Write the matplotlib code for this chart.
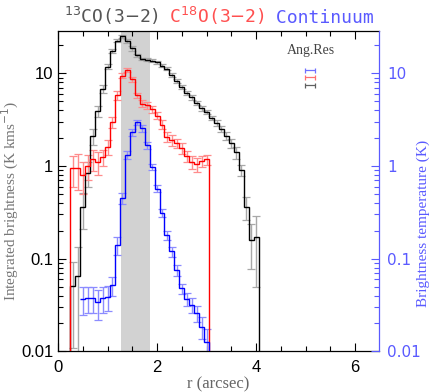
import numpy as np
import matplotlib
matplotlib.use("Agg")
import matplotlib.pyplot as plt
from matplotlib.ticker import LogLocator, NullFormatter, FixedLocator, MultipleLocator

# ---------------- data ----------------
bin_width = 0.1
co13_r = [round(0.3 + 0.1 * i, 2) for i in range(38)]
co13_val = [0.051, 0.065, 0.36, 0.85, 2.1, 3.9, 6.8, 11.8, 17.5, 22.5,
            25.0, 22.3, 18.6, 15.6, 14.3, 14.0, 13.6, 13.1, 12.1, 11.2,
            9.6, 8.3, 7.1, 6.1, 5.5, 4.8, 4.2, 3.8, 3.3, 2.9,
            2.5, 2.1, 1.78, 1.4, 0.9, 0.36, 0.158, 0.17]
co13_err = [0.04, 0.07, 0.15, 0.25, 0.4, 0.5, 0.6, 0.8, 1.0, 1.0,
            1.0, 1.0, 1.0, 0.6, 0.5, 0.5, 0.5, 0.5, 0.5, 0.4,
            0.4, 0.35, 0.3, 0.3, 0.3, 0.25, 0.25, 0.2, 0.2, 0.2,
            0.2, 0.2, 0.2, 0.2, 0.12, 0.1, 0.08, 0.12]

c18o_r = [round(0.3 + 0.1 * i, 2) for i in range(28)]
c18o_val = [0.94, 0.95, 0.80, 1.0, 1.18, 1.1, 1.25, 1.6, 3.0, 5.8,
            9.4, 10.9, 8.6, 5.8, 4.7, 4.5, 4.1, 3.5, 2.8, 2.07,
            1.9, 1.75, 1.55, 1.28, 1.1, 1.04, 1.12, 1.18]
c18o_err = [0.35, 0.4, 0.3, 0.3, 0.3, 0.3, 0.25, 0.3, 0.4, 0.6,
            0.6, 0.6, 0.5, 0.4, 0.4, 0.4, 0.35, 0.3, 0.3, 0.25,
            0.25, 0.2, 0.2, 0.18, 0.18, 0.18, 0.15, 0.15]

cont_r = [round(0.5 + 0.1 * i, 2) for i in range(26)]
cont_val = [0.037, 0.038, 0.038, 0.034, 0.038, 0.039, 0.052, 0.14, 0.45, 1.32,
            2.3, 2.95, 2.55, 1.67, 0.98, 0.57, 0.31, 0.178, 0.12, 0.075,
            0.048, 0.037, 0.032, 0.026, 0.0185, 0.0125]
cont_err = [0.012, 0.012, 0.012, 0.012, 0.012, 0.012, 0.012, 0.03, 0.06, 0.12,
            0.2, 0.2, 0.2, 0.15, 0.08, 0.05, 0.03, 0.02, 0.015, 0.01,
            0.006, 0.006, 0.006, 0.005, 0.005, 0.005]

gap_range = [1.28, 1.86]
angres_x = 5.08
angres_halfwidth = 0.1
angres_y = [10.9, 9.06, 7.5]   # continuum, C18O, 13CO

# ---------------- style ----------------
BLACK = "#000000"
RED = "#ff0000"
BLUE = "#0000ff"
GRAY_T = "#555555"
RED_T = "#ff5050"
BLUE_T = "#5a5aff"

fig = plt.figure(figsize=(4.38, 3.92), dpi=100)
ax = fig.add_axes([0.1324, 0.1036, 0.7329, 0.8173])
ax.set_yscale("log")
ax.set_xlim(0, 6.48)
ax.set_ylim(0.01, 28.6)

ax.axvspan(gap_range[0], gap_range[1], color="#d2d2d2", zorder=0, lw=0)


def draw(r, v, e, col, ecol, start_drop, end_drop):
    r = np.asarray(r)
    v = np.asarray(v, dtype=float)
    e = np.asarray(e, dtype=float)
    lo = np.minimum(e, v * 0.999)
    ax.errorbar(r, v, yerr=[lo, e], fmt="none", ecolor=ecol, elinewidth=1.0,
                capsize=3, capthick=0.9, zorder=2)
    edges = np.concatenate([r - bin_width / 2, [r[-1] + bin_width / 2]])
    vals = v.copy()
    if start_drop:
        edges = np.concatenate([[edges[0] - bin_width], edges])
        vals = np.concatenate([[1e-5], vals])
    if end_drop:
        edges = np.concatenate([edges, [edges[-1] + bin_width]])
        vals = np.concatenate([vals, [1e-5]])
    ax.stairs(vals, edges, baseline=None, color=col, lw=1.0, zorder=3)


draw(co13_r, co13_val, co13_err, BLACK, "#a8a8a8", True, True)
draw(c18o_r, c18o_val, c18o_err, RED, "#ff8c8c", True, True)
draw(cont_r, cont_val, cont_err, BLUE, "#8c8cff", False, True)

# Angular resolution markers
for yv, c in zip(angres_y, ["#7070ff", "#ff7070", "#606060"]):
    ax.errorbar([angres_x], [yv], xerr=[angres_halfwidth], fmt="none",
                ecolor=c, elinewidth=0.9, capsize=1.8, capthick=0.9)
ax.text(angres_x + 0.02, 17.5, "Ang.Res", ha="center", va="center",
        fontsize=10, family="Liberation Serif", color="#444444")

# ticks & spines
ax.xaxis.set_major_locator(FixedLocator([0, 2, 4, 6]))
ax.xaxis.set_minor_locator(MultipleLocator(0.5))
ax.tick_params(axis="x", which="both", direction="in", top=True, bottom=True)
ax.tick_params(axis="x", which="major", length=6, width=0.8, labelsize=12, pad=6)
ax.tick_params(axis="x", which="minor", length=3.5, width=0.8)
ax.tick_params(axis="y", which="both", direction="in", left=True, right=False)
ax.tick_params(axis="y", which="major", length=6, width=0.8, labelsize=12)
ax.tick_params(axis="y", which="minor", length=3.5, width=0.8)
ax.yaxis.set_minor_locator(LogLocator(base=10, subs=np.arange(2, 10), numticks=20))
ax.yaxis.set_minor_formatter(NullFormatter())
ax.set_yticks([0.01, 0.1, 1, 10])
ax.set_yticklabels(["0.01", "0.1", "1", "10"], family="Liberation Sans")
ax.set_xticklabels(["0", "2", "4", "6"], family="Liberation Sans")
for s in ["left", "top", "bottom"]:
    ax.spines[s].set_linewidth(0.9)
ax.spines["right"].set_visible(False)

ax2 = ax.twinx()
ax2.set_yscale("log")
ax2.set_ylim(ax.get_ylim())
ax2.spines["right"].set_color(BLUE_T)
ax2.spines["right"].set_linewidth(0.9)
for s in ["left", "top", "bottom"]:
    ax2.spines[s].set_visible(False)
ax2.set_yticks([0.01, 0.1, 1, 10])
ax2.yaxis.set_minor_locator(LogLocator(base=10, subs=np.arange(2, 10), numticks=20))
ax2.yaxis.set_minor_formatter(NullFormatter())
ax2.set_yticklabels(["0.01", "0.1", "1", "10"], family="DejaVu Sans")
ax2.tick_params(axis="y", which="both", direction="in", colors=BLUE_T,
                labelcolor=BLUE_T)
ax2.tick_params(axis="y", which="major", length=6, width=0.8, labelsize=11, pad=6)
ax2.tick_params(axis="y", which="minor", length=3.5, width=0.8)

ax.set_xlabel("r (arcsec)", family="Liberation Serif", fontsize=12,
              color="#666666", labelpad=1)
ax.set_ylabel(r"Integrated brightness (K kms$^{-1}$)", family="Liberation Serif",
              fontsize=11, color="#777777")
ax.yaxis.set_label_coords(-0.115, 0.47)
ax2.set_ylabel("Brightness temperature (K)", family="Liberation Serif",
               fontsize=11, color=BLUE_T)
ax2.yaxis.set_label_coords(1.118, 0.40)

# Title pieces
plt.rcParams["mathtext.fontset"] = "dejavusans"
fig.canvas.draw()
rend = fig.canvas.get_renderer()
pieces = [(r"$^{13}$CO(3$-$2)", GRAY_T), (r" C$^{18}$O(3$-$2)", RED_T),
          (" Continuum", BLUE_T)]
xpix = 64
for txt, col in pieces:
    t = fig.text(xpix / 438, 1 - 23 / 392, txt, color=col, fontsize=13,
                 family="DejaVu Sans Mono", ha="left", va="baseline")
    bb = t.get_window_extent(renderer=rend)
    xpix = bb.x1

fig.savefig("out.png", dpi=100)
